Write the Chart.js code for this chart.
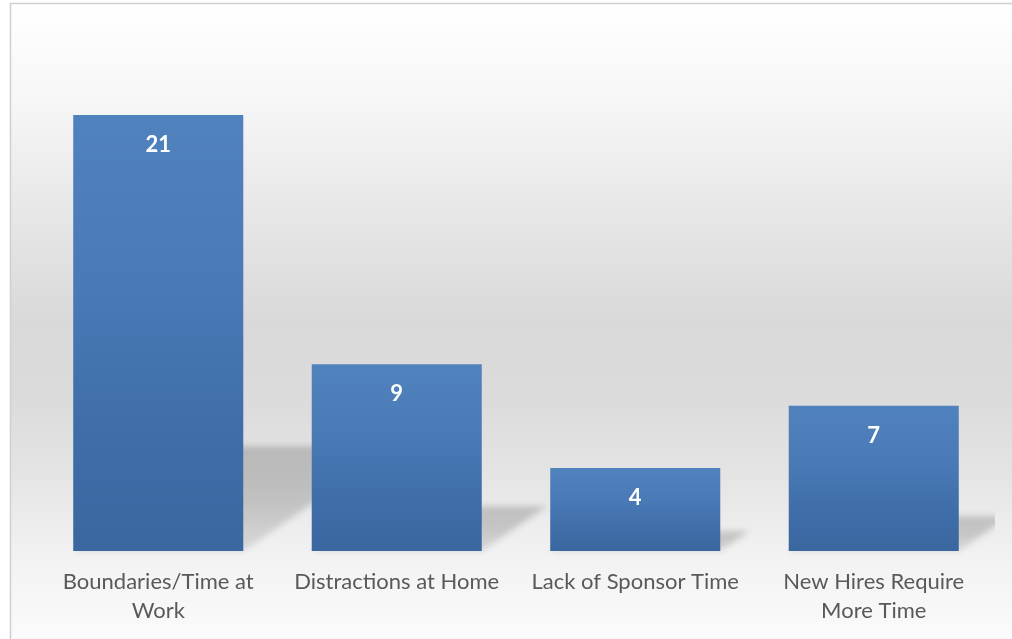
<!DOCTYPE html>
<html>
<head>
<meta charset="utf-8">
<script src="https://cdn.jsdelivr.net/npm/chart.js@4.4.1/dist/chart.umd.min.js"></script>
<style>
  html, body { margin: 0; padding: 0; background: #ffffff; }
  #wrap { width: 1012px; height: 639px; position: relative; }
  canvas { display: block; }
</style>
</head>
<body>
<div id="wrap"><canvas id="c" width="1012" height="639"></canvas></div>
<script>
// ---- Data ----
const categories = [['Boundaries/Time at', 'Work'], 'Distractions at Home', 'Lack of Sponsor Time', ['New Hires Require', 'More Time']];
const values = [21, 9, 4, 7];
const yMin = 0;
const yMax = 25;

// ---- Plugins ----
const backgroundPlugin = {
  id: 'bgPanel',
  beforeDraw(chart) {
    const ctx = chart.ctx;
    ctx.save();
    ctx.fillStyle = '#ffffff';
    ctx.fillRect(0, 0, chart.width, chart.height);
    const g = ctx.createLinearGradient(0, 3, 0, chart.height);
    g.addColorStop(0.00, '#ffffff');
    g.addColorStop(0.15, '#f7f7f7');
    g.addColorStop(0.28, '#ebebeb');
    g.addColorStop(0.50, '#d9d9d9');
    g.addColorStop(0.62, '#dbdbdb');
    g.addColorStop(0.74, '#e4e4e4');
    g.addColorStop(0.87, '#f2f2f2');
    g.addColorStop(1.00, '#fbfbfb');
    ctx.fillStyle = g;
    ctx.fillRect(10, 3, chart.width - 10, chart.height - 3);
    ctx.strokeStyle = '#d0d0d0';
    ctx.lineWidth = 1.5;
    ctx.beginPath();
    ctx.moveTo(10.5, chart.height);
    ctx.lineTo(10.5, 3.5);
    ctx.lineTo(chart.width, 3.5);
    ctx.stroke();
    ctx.restore();
  }
};

const shadowPlugin = {
  id: 'barShadows',
  beforeDatasetsDraw(chart) {
    const ctx = chart.ctx;
    const meta = chart.getDatasetMeta(0);
    ctx.save();
    ctx.beginPath();
    ctx.rect(11, 4, 995 - 11, chart.height - 4);
    ctx.clip();
    ctx.filter = 'blur(3px)';
    meta.data.forEach(bar => {
      const p = bar.getProps(['x', 'y', 'base', 'width'], true);
      const L = p.x - p.width / 2, R = p.x + p.width / 2;
      const H = p.base - p.y;
      const h = H * 0.24, dx = h * 1.45;
      const g = ctx.createLinearGradient(0, p.base, 0, p.base - h);
      g.addColorStop(0, 'rgba(0,0,0,0.10)');
      g.addColorStop(0.5, 'rgba(0,0,0,0.17)');
      g.addColorStop(1, 'rgba(0,0,0,0.18)');
      ctx.fillStyle = g;
      ctx.beginPath();
      ctx.moveTo(L, p.base);
      ctx.lineTo(R, p.base);
      ctx.lineTo(R + dx, p.base - h);
      ctx.lineTo(L + dx, p.base - h);
      ctx.closePath();
      ctx.fill();
    });
    ctx.restore();
  }
};

const valueLabelPlugin = {
  id: 'valueLabels',
  afterDatasetsDraw(chart) {
    const ctx = chart.ctx;
    const meta = chart.getDatasetMeta(0);
    const ds = chart.data.datasets[0].data;
    ctx.save();
    ctx.fillStyle = '#ffffff';
    ctx.font = 'bold 22px Lato';
    ctx.textAlign = 'center';
    ctx.textBaseline = 'middle';
    meta.data.forEach((bar, i) => {
      const p = bar.getProps(['x', 'y'], true);
      ctx.fillText(String(ds[i]), p.x, p.y + 30);
    });
    ctx.restore();
  }
};

function barGradient(c) {
  const chart = c.chart;
  if (!chart.chartArea || c.raw === undefined) return '#4a7bb7';
  const y = chart.scales.y;
  const top = y.getPixelForValue(c.raw);
  const bottom = y.getPixelForValue(0);
  const g = chart.ctx.createLinearGradient(0, top, 0, bottom);
  g.addColorStop(0.00, '#5082be');
  g.addColorStop(0.40, '#4a7ab6');
  g.addColorStop(0.70, '#3f6ea8');
  g.addColorStop(1.00, '#3b67a0');
  return g;
}

new Chart(document.getElementById('c'), {
  type: 'bar',
  data: {
    labels: categories,
    datasets: [{
      data: values,
      backgroundColor: barGradient,
      borderWidth: 0,
      barPercentage: 0.713,
      categoryPercentage: 1.0
    }]
  },
  options: {
    responsive: false,
    animation: false,
    devicePixelRatio: 1,
    layout: { padding: { left: 39, right: 19, top: 32, bottom: 0 } },
    plugins: { legend: { display: false }, tooltip: { enabled: false } },
    scales: {
      x: {
        grid: { display: false, drawTicks: false },
        border: { display: false },
        ticks: {
          color: '#595959',
          font: { family: 'Lato', size: 22, lineHeight: 1.32 },
          padding: 16,
          maxRotation: 0,
          autoSkip: false
        },
        afterFit(scale) { scale.height = 88; }
      },
      y: {
        display: false,
        min: yMin,
        max: yMax
      }
    }
  },
  plugins: [backgroundPlugin, shadowPlugin, valueLabelPlugin]
});
</script>
</body>
</html>
